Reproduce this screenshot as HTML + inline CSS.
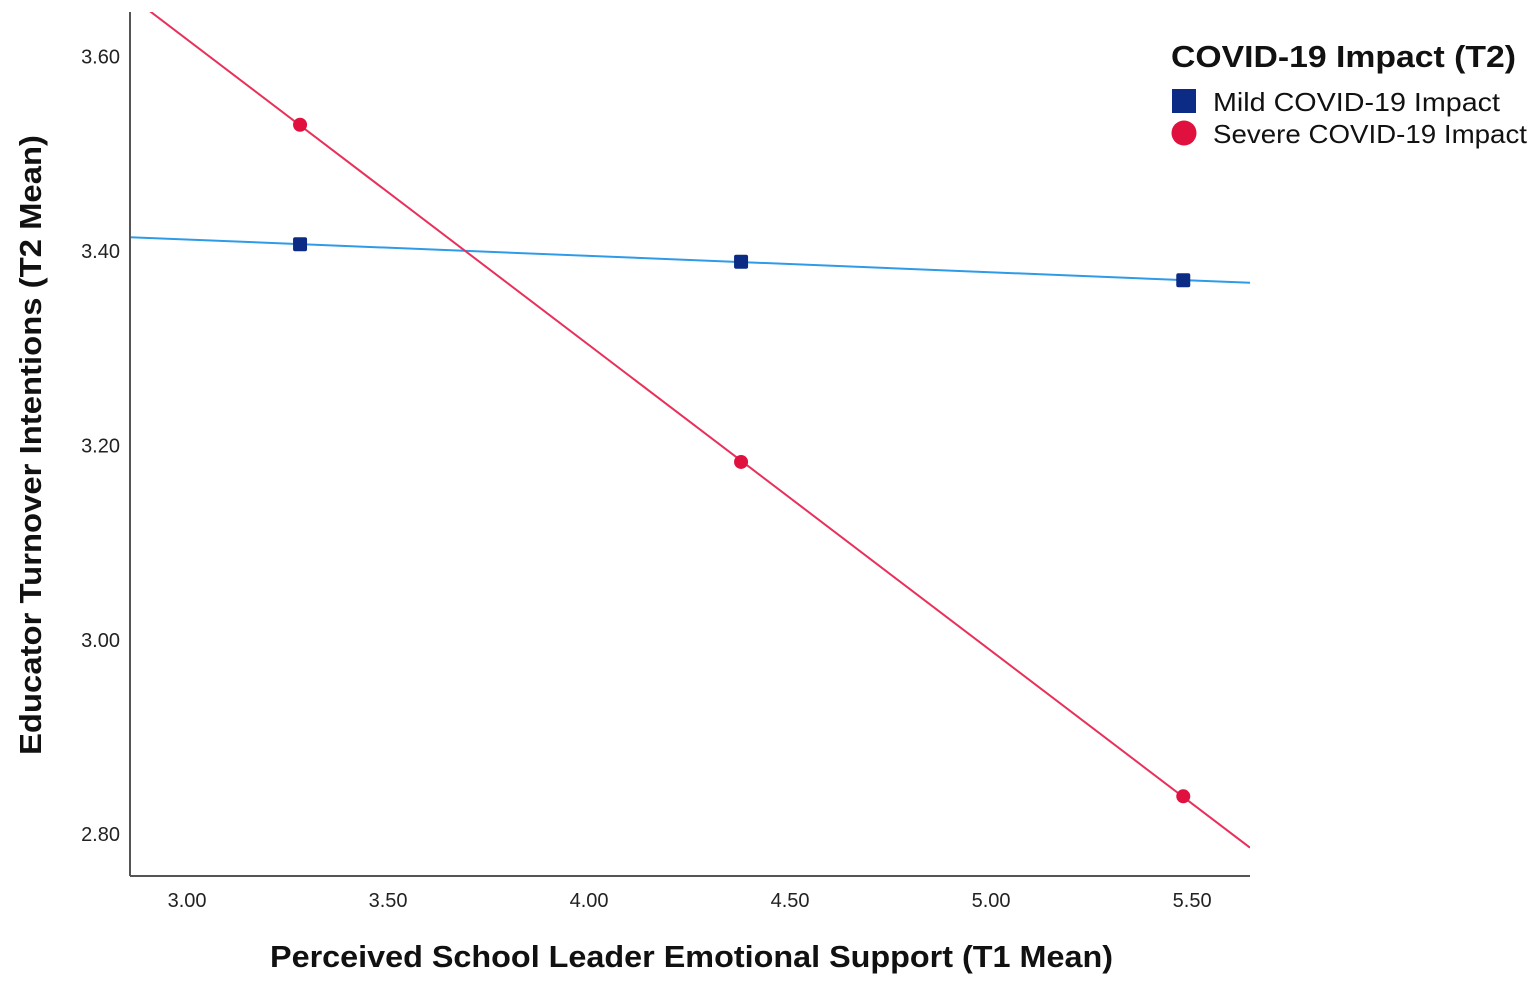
<!DOCTYPE html>
<html><head><meta charset="utf-8"><style>
html,body{margin:0;padding:0;background:#fff;}
svg{display:block;font-family:"Liberation Sans",sans-serif;}
</style></head><body>
<svg id="chart" width="1535" height="985" viewBox="0 0 1535 985">
<g id="plot"></g>
<line x1="130" y1="12" x2="130" y2="876" stroke="#555" stroke-width="2"/>
<line x1="130" y1="876" x2="1250" y2="876" stroke="#555" stroke-width="2"/>
<g id="xticks"></g>
<g id="yticks"></g>
<text x="270" y="967" textLength="843" lengthAdjust="spacingAndGlyphs" font-size="31" font-weight="bold" fill="#111">Perceived School Leader Emotional Support (T1 Mean)</text>
<text transform="translate(41,755) rotate(-90)" textLength="620" lengthAdjust="spacingAndGlyphs" font-size="31" font-weight="bold" fill="#111">Educator Turnover Intentions (T2 Mean)</text>
<g>
<text x="1171" y="67" textLength="345" lengthAdjust="spacingAndGlyphs" font-size="31" font-weight="bold" fill="#111">COVID-19 Impact (T2)</text>
<g>
<rect x="1172" y="89" width="24" height="24" fill="#0b2b85"/>
<text x="1213" y="111" textLength="287" lengthAdjust="spacingAndGlyphs" font-size="26" fill="#111">Mild COVID-19 Impact</text></g>
<g>
<circle cx="1184" cy="133" r="12.5" fill="#e0103f"/>
<text x="1213" y="143" textLength="314" lengthAdjust="spacingAndGlyphs" font-size="26" fill="#111">Severe COVID-19 Impact</text></g>
</g>
</svg>
<script>
const xCategories = [3.281, 4.378, 5.478];
const mildValues = [3.407, 3.389, 3.370];
const severeValues = [3.530, 3.183, 2.839];
const xTickLabels = ["3.00","3.50","4.00","4.50","5.00","5.50"];
const yTickLabels = ["2.80","3.00","3.20","3.40","3.60"];

const XMIN=2.858, XMAX=5.644, YMIN=2.757, YMAX=3.646;
const L=130, R=1250, T=12, B=876;
function sx(v){return L+(v-XMIN)/(XMAX-XMIN)*(R-L);}
function sy(v){return B-(v-YMIN)/(YMAX-YMIN)*(B-T);}
const NS="http://www.w3.org/2000/svg";
function mk(tag,attrs,parent){const e=document.createElementNS(NS,tag);for(const k in attrs)e.setAttribute(k,attrs[k]);parent.appendChild(e);return e;}

const xt=document.getElementById('xticks');
xTickLabels.forEach(t=>{const e=mk('text',{x:sx(parseFloat(t)),y:907,'text-anchor':'middle','font-size':20,fill:'#222'},xt);


e.textContent=t;});
const yt=document.getElementById('yticks');
yTickLabels.forEach(t=>{const e=mk('text',{x:120,y:sy(parseFloat(t))+7,'text-anchor':'end','font-size':20,fill:'#222'},yt);


e.textContent=t;});

const plot=document.getElementById('plot');
const defs=mk('defs',{},plot);
const cp=mk('clipPath',{id:'clip'},defs);
mk('rect',{x:L,y:T,width:R-L,height:B-T},cp);

function fit(xs,ys){const n=xs.length;const mx=xs.reduce((a,b)=>a+b)/n,my=ys.reduce((a,b)=>a+b)/n;let sxy=0,sxx=0;for(let i=0;i<n;i++){sxy+=(xs[i]-mx)*(ys[i]-my);sxx+=(xs[i]-mx)**2;}const b=sxy/sxx;return [my-b*mx,b];}

function series(vals,color,mcolor,shape,name){
  const [a,b]=fit(xCategories,vals);
  const ln=mk('line',{x1:sx(XMIN),y1:sy(a+b*XMIN),x2:sx(XMAX),y2:sy(a+b*XMAX),stroke:color,'stroke-width':2,'clip-path':'url(#clip)'},plot);
  
  
  vals.forEach((v,i)=>{let m;
    if(shape==='sq'){m=mk('rect',{x:sx(xCategories[i])-7,y:sy(v)-7,width:14,height:14,rx:2,fill:mcolor},plot);}
    else{m=mk('circle',{cx:sx(xCategories[i]),cy:sy(v),r:7,fill:mcolor},plot);}
    
    
  });
}
series(mildValues,'#2e9be8','#0b2b85','sq','mild');
series(severeValues,'#e8305a','#e0103f','ci','severe');
</script>
</body></html>
